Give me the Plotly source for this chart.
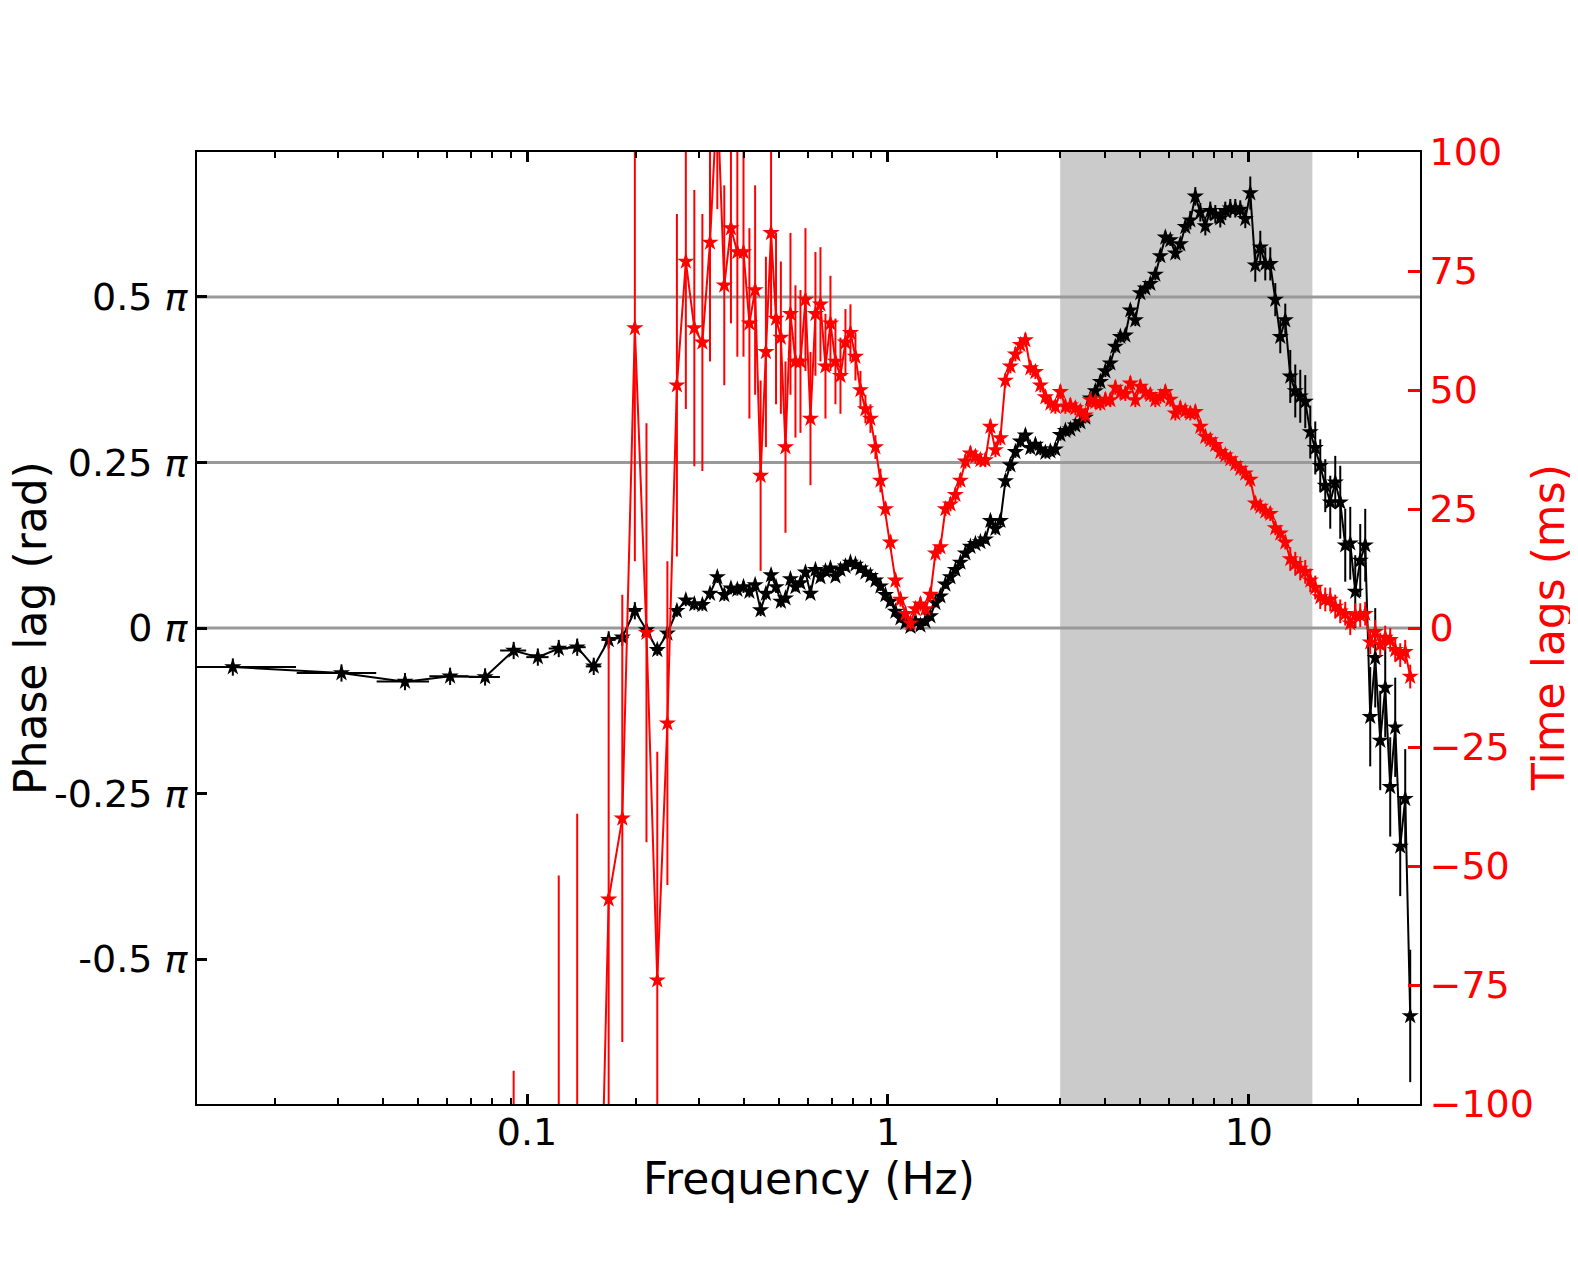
import plotly.graph_objects as go

# ---------------- data ----------------
FREQ = [
    0.0153, 0.0306, 0.0459, 0.0612, 0.0765, 0.0918, 0.1071, 0.1224, 0.1377, 0.153,
    0.1683, 0.1836, 0.1989, 0.2142, 0.2295, 0.2448, 0.2601, 0.2754, 0.2907, 0.306,
    0.3213, 0.3366, 0.3519, 0.3672, 0.3825, 0.3978, 0.4131, 0.4284, 0.4437, 0.459,
    0.4743, 0.4896, 0.5049,
    0.520, 0.5368, 0.5542, 0.5722, 0.5907, 0.6099, 0.6296, 0.6500, 0.6711, 0.6928,
    0.7153, 0.7385, 0.7624, 0.7871, 0.8126, 0.8389, 0.8661, 0.8942, 0.9232, 0.9531,
    0.9840, 1.0159, 1.0488, 1.0828, 1.1179, 1.1541, 1.1915, 1.2301, 1.2700, 1.3111,
    1.3536, 1.3975, 1.4428, 1.4895, 1.5378, 1.5876, 1.6391, 1.6922, 1.7470, 1.8036,
    1.8621, 1.9224, 1.9847, 2.0490, 2.1154, 2.1839, 2.2547, 2.3277, 2.4031, 2.4810,
    2.5614, 2.6444, 2.7301, 2.8185, 2.9098, 3.0041, 3.1015, 3.2020, 3.3057, 3.4128,
    3.5234, 3.6376, 3.7554, 3.8771, 4.0027, 4.1324, 4.2663, 4.4045, 4.5472, 4.6946,
    4.8467, 5.0037, 5.1658, 5.3332, 5.5060, 5.6844, 5.8686, 6.0587, 6.2550, 6.4577,
    6.6669, 6.8829, 7.1059, 7.3362, 7.5739, 7.8193, 8.0726, 8.3342, 8.6042, 8.8830,
    9.1708, 9.4679, 9.7747, 10.091, 10.418, 10.756, 11.104, 11.464, 11.836, 12.219,
    12.615, 13.024, 13.446, 13.881, 14.331, 14.795, 15.275, 15.770, 16.281, 16.808,
    17.353, 17.915, 18.495, 19.095, 19.713, 20.352, 21.011, 21.692, 22.395, 23.121,
    23.870, 24.643, 25.441, 26.266, 27.117, 27.995,
]

# phase lag in units of pi
PHASE_PI = [
    -0.059, -0.068, -0.081, -0.073, -0.074, -0.034, -0.044, -0.031, -0.029, -0.058,
    -0.018, -0.014, 0.026, -0.003, -0.033, -0.008, 0.026, 0.042, 0.036, 0.035,
    0.052, 0.077, 0.050, 0.060, 0.058, 0.062, 0.055, 0.065, 0.027, 0.052,
    0.080, 0.062, 0.040,
    0.045, 0.074, 0.062, 0.068, 0.084, 0.052, 0.088, 0.077, 0.086, 0.090,
    0.078, 0.088, 0.093, 0.099, 0.096, 0.090, 0.084, 0.079, 0.072, 0.063,
    0.050, 0.040, 0.025, 0.015, 0.008, 0.002, 0.010, 0.004, 0.010, 0.018,
    0.038, 0.048, 0.066, 0.077, 0.088, 0.099, 0.113, 0.123, 0.127, 0.130,
    0.134, 0.162, 0.150, 0.162, 0.222, 0.246, 0.266, 0.282, 0.291, 0.272,
    0.277, 0.270, 0.265, 0.267, 0.270, 0.292, 0.298, 0.300, 0.306, 0.311,
    0.318, 0.347, 0.358, 0.372, 0.388, 0.400, 0.425, 0.440, 0.442, 0.480,
    0.465, 0.506, 0.513, 0.520, 0.534, 0.562, 0.590, 0.586, 0.566, 0.580,
    0.606, 0.616, 0.652, 0.628, 0.607, 0.630, 0.625, 0.619, 0.630, 0.634,
    0.634, 0.632, 0.618, 0.657, 0.548, 0.575, 0.550, 0.550, 0.496, 0.440,
    0.465, 0.380, 0.358, 0.350, 0.342, 0.296, 0.272, 0.245, 0.215, 0.190,
    0.220, 0.190, 0.125, 0.128, 0.055, 0.102, 0.125, -0.134, -0.045, -0.170,
    -0.090, -0.240, -0.150, -0.330, -0.258, -0.586,
]

PHASE_ERR_PI = (
    [0.013] * 13 + [0.009] * 20 + [0.007] * 41 + [0.009] * 40 + [0.014] * 12
    + [0.025] * 8 + [0.04] * 10 + [0.055] * 6 + [0.075] * 8 + [0.10]
)
FREQ_HALF_BIN = 0.0076  # horizontal error (half bin width, Hz)

# time lags (ms); series starts at the 6th frequency bin
TLAG_START = 5
TLAG_MS = [
    -185, -206, -127, -105, -190, -57, -40, 63, -1, -74,
    -20, 51, 77, 63, 60, 81, 112, 72, 84, 79,
    79, 64, 71, 32, 58, 83, 65, 61,
    38, 66, 56, 56, 69, 44, 66, 68, 55, 64,
    56, 53, 60, 62, 57, 50, 46, 44, 38, 31,
    25, 18, 10, 6, 3, 1, 4, 5, 4, 7,
    15.7, 17, 25, 26, 28, 31, 35, 36.7, 36, 35.3,
    35.3, 42.3, 37.4, 39.9, 52, 55, 57.5, 59.5, 60.5, 54.6,
    53.8, 51, 48.5, 47.2, 46.5, 49.6, 46.5, 46.8, 46.2, 45.5,
    44.7, 47.9, 47.5, 47.2, 48, 47.9, 50.5, 49.5, 49.2, 51.4,
    47.9, 50.7, 49.5, 49, 47.9, 48.6, 49.6, 48, 45.1, 46.2,
    45.6, 45.1, 45.4, 42.3, 40.2, 39.5, 38.5, 37, 36.3, 35.5,
    34.5, 33.5, 32.5, 31.2, 26.2, 25.5, 24.5, 24, 21, 19.9,
    18, 14.5, 13.5, 12.5, 11.8, 10, 8.5, 6.5, 6, 6,
    4.5, 3.5, 3, 1, 2.7, 2.7, 3, -3, -0.8, -3.5,
    -2, -2.5, -4.6, -5.7, -5, -10.2,
]
TLAG_ERR_MS = (
    [92, 80, 75, 66, 60, 55, 47, 49, 44, 48,
     34, 36, 31, 29, 27, 25, 24, 21, 20, 22,
     22, 20, 22, 20, 20, 18, 18, 16,
     18, 17, 16, 15, 15, 14, 13, 12, 11, 10,
     9, 8, 7, 6, 5, 4, 3, 3, 2.5, 2.5]
    + [1.5] * 81 + [2.5] * 25
)

PHASE_TICKS = [-0.5, -0.25, 0, 0.25, 0.5]
PHASE_TICK_TEXT = ["-0.5 <i>π</i>", "-0.25 <i>π</i>", "0 <i>π</i>", "0.25 <i>π</i>", "0.5 <i>π</i>"]
REF_LINES_PI = [0, 0.25, 0.5]
BAND_HZ = [3, 15]

# ---------------- figure ----------------
FONT = "DejaVu Sans"
TICK_SIZE = 38
TITLE_SIZE = 44
fig = go.Figure()

fig.add_trace(go.Scatter(
    x=FREQ, y=PHASE_PI, mode="lines+markers",
    line=dict(color="black", width=2),
    marker=dict(symbol="star", size=13, color="black", line=dict(width=0)),
    error_y=dict(type="data", array=PHASE_ERR_PI, color="black", thickness=2, width=0),
    error_x=dict(type="constant", value=FREQ_HALF_BIN, color="black", thickness=2, width=0),
    showlegend=False, yaxis="y",
))

fig.add_trace(go.Scatter(
    x=FREQ[TLAG_START:], y=TLAG_MS, mode="lines+markers",
    line=dict(color="red", width=2),
    marker=dict(symbol="star", size=13, color="red", line=dict(width=0)),
    error_y=dict(type="data", array=TLAG_ERR_MS, color="red", thickness=2, width=0),
    showlegend=False, yaxis="y2",
))

shapes = [dict(type="rect", xref="x", yref="paper", x0=BAND_HZ[0], x1=BAND_HZ[1], y0=0, y1=1,
               fillcolor="#cbcbcb", line=dict(width=0), layer="below")]
for v in REF_LINES_PI:
    shapes.append(dict(type="line", xref="paper", yref="y", x0=0, x1=1, y0=v, y1=v,
                       line=dict(color="#999999", width=3), layer="below"))

fig.update_layout(
    width=1578, height=1262,
    paper_bgcolor="white", plot_bgcolor="white",
    margin=dict(l=189, r=166, t=144, b=166, autoexpand=False),
    font=dict(family=FONT, size=TICK_SIZE, color="black"),
    shapes=shapes,
    xaxis=dict(
        type="log", range=[-1.9146, 1.4742], tickmode="linear", tick0=0, dtick=1,
        ticks="inside", ticklen=10, tickwidth=2.5, tickcolor="black",
        minor=dict(ticks="inside", ticklen=6, tickwidth=2, tickcolor="black", dtick="D1", showgrid=False),
        showline=True, linecolor="black", linewidth=2, mirror="ticks",
        showgrid=False, zeroline=False, ticklabelstandoff=-7,
        tickfont=dict(family=FONT, size=TICK_SIZE, color="black"),
    ),
    yaxis=dict(
        range=[-0.719, 0.719], tickmode="array", tickvals=PHASE_TICKS, ticktext=PHASE_TICK_TEXT,
        ticks="inside", ticklen=10, tickwidth=2.5, tickcolor="black",
        showline=True, linecolor="black", linewidth=2,
        showgrid=False, zeroline=False,
        tickfont=dict(family=FONT, size=TICK_SIZE, color="black"),
    ),
    yaxis2=dict(
        overlaying="y", side="right", range=[-100, 100], tickmode="linear", tick0=0, dtick=25,
        ticks="inside", ticklen=12, tickwidth=3, tickcolor="red",
        showline=True, linecolor="black", linewidth=2,
        showgrid=False, zeroline=False,
        tickfont=dict(family=FONT, size=TICK_SIZE, color="red"),
    ),
    annotations=[
        dict(text="Frequency (Hz)", xref="paper", yref="paper", x=0.5, y=0,
             xanchor="center", yanchor="middle", yshift=-74, showarrow=False,
             font=dict(family=FONT, size=TITLE_SIZE, color="black")),
        dict(text="Phase lag (rad)", xref="paper", yref="paper", x=0, y=0.5,
             xanchor="center", yanchor="middle", xshift=-167, textangle=-90, showarrow=False,
             borderpad=0, font=dict(family=FONT, size=TITLE_SIZE, color="black")),
        dict(text="Time lags (ms)", xref="paper", yref="paper", x=1, y=0.5,
             xanchor="center", yanchor="middle", xshift=128, textangle=-90, showarrow=False,
             font=dict(family=FONT, size=TITLE_SIZE, color="red")),
    ],
)

fig.write_html("out.html")
